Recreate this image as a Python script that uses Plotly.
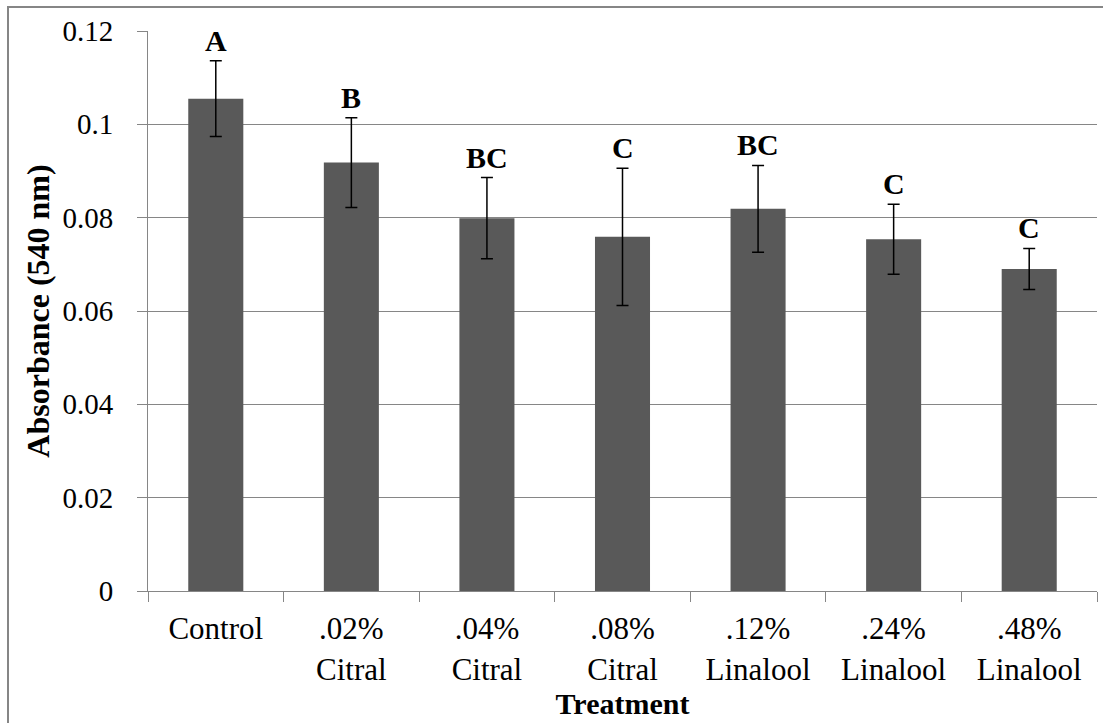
import plotly.graph_objects as go

# Absorbance at 540 nm for each treatment (mean, standard deviation, significance group)
treatments = ["Control", ".02%<br>Citral", ".04%<br>Citral", ".08%<br>Citral",
              ".12%<br>Linalool", ".24%<br>Linalool", ".48%<br>Linalool"]
absorbance = [0.1055, 0.0918, 0.0799, 0.0759, 0.0819, 0.0754, 0.0690]
std_dev = [0.0081, 0.0096, 0.0087, 0.0147, 0.0093, 0.0075, 0.0044]
groups = ["A", "B", "BC", "C", "BC", "C", "C"]
y_ticks = [0, 0.02, 0.04, 0.06, 0.08, 0.1, 0.12]
y_tick_text = ["0", "0.02", "0.04", "0.06", "0.08", "0.1", "0.12"]

FONT = "Liberation Serif"
W, H = 1103, 723
M = dict(l=148, r=6, t=31, b=132)
pw = W - M["l"] - M["r"]
ph = H - M["t"] - M["b"]

fig = go.Figure()
fig.add_trace(go.Bar(
    x=treatments,
    y=absorbance,
    marker=dict(color="#595959", line=dict(width=0)),
    error_y=dict(type="data", array=std_dev, visible=True,
                 color="#000000", thickness=1.5, width=6),
))

# significance letters above each error bar
for t, m, s, g in zip(treatments, absorbance, std_dev, groups):
    fig.add_annotation(
        x=t, y=m + s, xref="x", yref="y", text=f"<b>{g}</b>",
        showarrow=False, yanchor="bottom", yshift=2,
        font=dict(family=FONT, size=30, color="#000000"),
    )

# outer chart frame
fig.add_shape(
    type="rect", xref="paper", yref="paper",
    x0=(8 - M["l"]) / pw, x1=(W + 10 - M["l"]) / pw,
    y0=-(H + 10 - M["t"] - ph) / ph, y1=1 + (M["t"] - 7) / ph,
    line=dict(color="#868686", width=2), fillcolor="rgba(0,0,0,0)",
    layer="below",
)

fig.update_layout(
    width=W, height=H,
    margin=M,
    paper_bgcolor="#ffffff",
    plot_bgcolor="#ffffff",
    bargap=0.594,
    showlegend=False,
    font=dict(family=FONT, size=30, color="#000000"),
)
fig.update_xaxes(
    type="category",
    tickson="boundaries",
    ticks="outside", ticklen=10, tickcolor="#868686", tickwidth=1,
    showline=True, linecolor="#868686", linewidth=1,
    showgrid=False,
    tickfont=dict(family=FONT, size=31, color="#000000"),
    ticklabelstandoff=10,
    title=dict(text="<b>Treatment</b>", standoff=5,
               font=dict(family=FONT, size=30, color="#000000")),
)
fig.update_yaxes(
    range=[0, 0.12],
    tickvals=y_ticks, ticktext=y_tick_text,
    ticks="outside", ticklen=10, tickcolor="#868686", tickwidth=1,
    showline=True, linecolor="#868686", linewidth=1,
    showgrid=True, gridcolor="#868686", gridwidth=1,
    zeroline=False,
    tickfont=dict(family=FONT, size=29, color="#000000"),
    ticklabelstandoff=18,
    title=dict(text="<b>Absorbance (540 nm)</b>", standoff=3,
               font=dict(family=FONT, size=32, color="#000000")),
)

fig.write_html("out.html")
